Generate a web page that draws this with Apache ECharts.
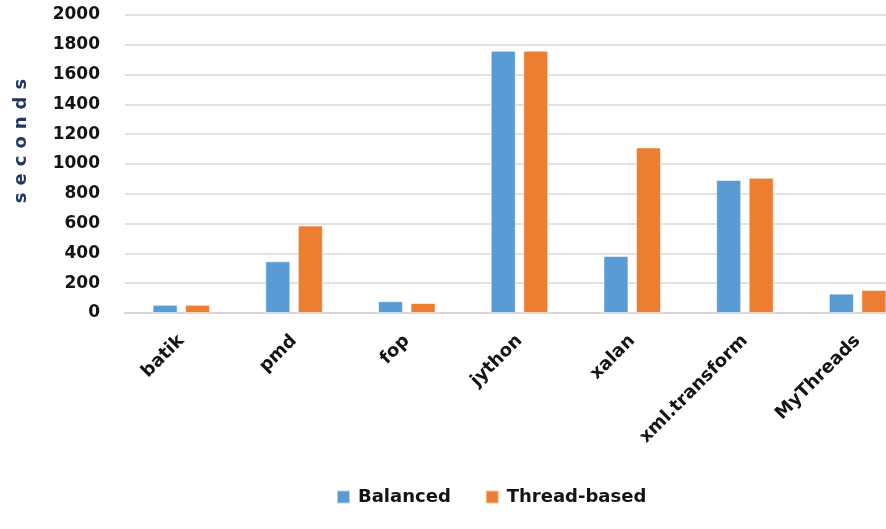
<!DOCTYPE html>
<html>
<head>
<meta charset="utf-8">
<script src="https://cdn.jsdelivr.net/npm/echarts@6/dist/echarts.min.js"></script>
<style>
  html, body { margin: 0; padding: 0; background: #ffffff; }
  #chart { width: 886px; height: 529px; }
</style>
</head>
<body>
<div id="chart"></div>
<script>
// Benchmark run times (seconds) for two scheduling strategies
const categories = ['batik', 'pmd', 'fop', 'jython', 'xalan', 'xml.transform', 'MyThreads'];
const balanced = [55, 347, 79, 1760, 383, 893, 130];
const threadBased = [55, 587, 67, 1760, 1111, 907, 155];
const seriesNames = ['Balanced', 'Thread-based'];
const axisTitle = 'seconds';

const FONT = 'DejaVu Sans';
const chart = echarts.init(document.getElementById('chart'), null, { renderer: 'canvas' });

// spaced-out lettering for the vertical axis title
const spacedTitle = axisTitle.split('').map(c => '{s|' + c + '}').join('');

chart.setOption({
  backgroundColor: '#ffffff',
  animation: false,
  color: ['#5B9BD5', '#ED7D31'],
  grid: {
    left: 125,
    right: -28,
    top: 15,
    bottom: 216,
    containLabel: false,
    outerBoundsMode: 'none'
  },
  legend: {
    data: seriesNames,
    left: 331,
    top: 483,
    icon: 'rect',
    itemWidth: 13,
    itemHeight: 13,
    itemGap: 34,
    textStyle: {
      fontFamily: FONT,
      fontWeight: 'bold',
      fontSize: 18,
      color: '#141414',
      padding: [0, 0, 0, 3]
    }
  },
  xAxis: {
    type: 'category',
    data: categories,
    axisLine: { lineStyle: { color: '#d6d6d6', width: 2 } },
    axisTick: { show: false },
    axisLabel: {
      rotate: 45,
      margin: 25,
      interval: 0,
      fontFamily: FONT,
      fontWeight: 'bold',
      fontSize: 18,
      color: '#141414'
    }
  },
  yAxis: {
    type: 'value',
    min: 0,
    max: 2000,
    interval: 200,
    axisLine: { show: false },
    axisTick: { show: false },
    splitLine: { lineStyle: { color: '#d9d9d9', width: 1.5 } },
    axisLabel: {
      margin: 25,
      formatter: v => String(v),
      fontFamily: FONT,
      fontWeight: 'bold',
      fontSize: 17,
      color: '#141414'
    }
  },
  graphic: [{
    type: 'text',
    x: 21,
    y: 141,
    rotation: Math.PI / 2,
    style: {
      text: spacedTitle,
      align: 'center',
      verticalAlign: 'middle',
      fontFamily: FONT,
      fontWeight: 'bold',
      fontSize: 18,
      fill: '#1F3864',
      rich: {
        s: {
          fontFamily: FONT,
          fontWeight: 'bold',
          fontSize: 18,
          fill: '#1F3864',
          padding: [0, 3.5, 0, 3.5]
        }
      }
    }
  }],
  series: [
    {
      name: seriesNames[0],
      type: 'bar',
      data: balanced,
      barWidth: 25,
      barGap: '30%',
      itemStyle: { borderColor: 'rgba(255,255,255,0.55)', borderWidth: 1 }
    },
    {
      name: seriesNames[1],
      type: 'bar',
      data: threadBased,
      barWidth: 25,
      barGap: '30%',
      itemStyle: { borderColor: 'rgba(255,255,255,0.55)', borderWidth: 1 }
    }
  ]
});
</script>
</body>
</html>
